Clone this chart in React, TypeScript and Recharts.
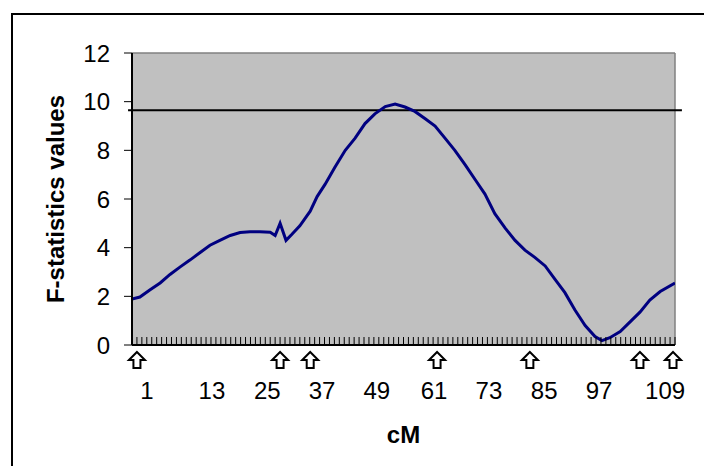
import React from "react";
import {
  LineChart,
  Line,
  XAxis,
  YAxis,
  CartesianGrid,
  ReferenceLine,
  ReferenceDot,
} from "recharts";

// positions along the map (cM) and F values
const cM = [
  0, 1.6, 3.6, 5.7, 7.7, 9.7, 11.8, 13.8, 15.8, 17.8, 19.9, 21.9, 23.9, 25.9,
  28.0, 29.0, 30.0, 31.2, 32.4, 34.0, 36.1, 37.5, 39.1, 41.1, 43.2, 45.2, 47.2,
  49.2, 51.3, 53.3, 55.3, 57.3, 59.4, 61.4, 63.4, 65.4, 67.5, 69.5, 71.5, 73.5,
  75.6, 77.6, 79.6, 81.6, 83.7, 85.7, 87.7, 89.7, 91.8, 93.8, 95.2, 96.8, 98.9,
  100.9, 102.9, 104.9, 107.0, 110,
];
const fValues = [
  1.89, 1.97, 2.26, 2.55, 2.9, 3.2, 3.5, 3.8, 4.1, 4.3, 4.5, 4.62, 4.65, 4.65,
  4.63, 4.5, 5.0, 4.3, 4.55, 4.9, 5.5, 6.1, 6.6, 7.3, 8.0, 8.5, 9.1, 9.5, 9.8,
  9.9, 9.78, 9.6, 9.3, 9.0, 8.5, 8.0, 7.4, 6.8, 6.2, 5.4, 4.8, 4.3, 3.9, 3.6,
  3.25, 2.7, 2.15, 1.45, 0.8, 0.35, 0.18, 0.3, 0.55, 0.95, 1.35, 1.85, 2.2, 2.55,
];

const threshold = 9.65;
const yTicks = [0, 2, 4, 6, 8, 10, 12];
const minorTicks = Array.from({ length: 111 }, (_, i) => i);

// marker arrows under the axis
const markerPos = [1.0, 30.0, 36.1, 61.8, 80.6, 102.9, 109.6];

// hand-placed axis labels
const labelPos = [3.0, 16.2, 27.4, 38.5, 49.6, 61.2, 72.3, 83.5, 94.6, 108.0];
const axisLabels = ["1", "13", "25", "37", "49", "61", "73", "85", "97", "109"];

const data = cM.map((x, i) => ({ cM: x, f: fValues[i] }));

const font = "'Liberation Sans', Arial, sans-serif";

const Arrow = (props: any) => {
  const { cx: x, cy } = props;
  const t = cy + 7;
  return (
    <path
      d={`M${x},${t} L${x + 8},${t + 8} L${x + 3.5},${t + 8} L${x + 3.5},${t + 16} L${x - 3.5},${t + 16} L${x - 3.5},${t + 8} L${x - 8},${t + 8} Z`}
      fill="#fff"
      stroke="#000"
      strokeWidth={2}
      strokeLinejoin="miter"
    />
  );
};

const tickLabel = (text: string) => (props: any) => (
  <text
    x={props.cx}
    y={props.cy + 54}
    textAnchor="middle"
    fontSize={24}
    fontFamily={font}
    fill="#000"
  >
    {text}
  </text>
);

const App: React.FC = () => {
  return (
    <div
      style={{
        position: "relative",
        width: 712,
        height: 474,
        margin: -8,
        overflow: "hidden",
        background: "#fff",
        fontFamily: font,
      }}
    >
      <div
        style={{
          position: "absolute",
          left: 11,
          top: 13,
          width: 800,
          height: 600,
          border: "2px solid #000",
        }}
      />
      <div style={{ position: "absolute", left: 0, top: 0 }}>
        <LineChart
          width={712}
          height={474}
          data={data}
          margin={{ top: 53, right: 37, bottom: 0, left: 0 }}
        >
          <CartesianGrid fill="#C0C0C0" horizontal={false} vertical={false} />
          <ReferenceLine y={12} stroke="#808080" strokeWidth={1.5} />
          <ReferenceLine x={110} stroke="#808080" strokeWidth={1.5} />
          <XAxis
            dataKey="cM"
            type="number"
            domain={[0, 110]}
            allowDataOverflow
            ticks={minorTicks}
            interval={0}
            height={129}
            tickSize={-8}
            tick={() => <g />}
            tickLine={{ stroke: "#000", strokeWidth: 1 }}
            axisLine={{ stroke: "#000", strokeWidth: 2 }}
            label={{
              value: "cM",
              position: "insideBottom",
              offset: 31,
              style: { fontSize: 24, fontWeight: "bold", fill: "#000", fontFamily: font },
            }}
          />
          <YAxis
            domain={[0, 12]}
            ticks={yTicks}
            interval={0}
            width={132}
            tickSize={8}
            tickMargin={14}
            axisLine={{ stroke: "#000", strokeWidth: 2 }}
            tickLine={{ stroke: "#000", strokeWidth: 1 }}
            tick={{ fontSize: 24, fill: "#000", fontFamily: font }}
            label={{
              value: "F-statistics values",
              angle: -90,
              position: "insideLeft",
              offset: 55,
              style: {
                fontSize: 24,
                fontWeight: "bold",
                fill: "#000",
                fontFamily: font,
                textAnchor: "middle",
              },
            }}
          />
          <ReferenceLine
            ifOverflow="visible"
            segment={[
              { x: -0.8, y: threshold },
              { x: 111.4, y: threshold },
            ]}
            stroke="#000"
            strokeWidth={2}
          />
          <Line
            type="linear"
            dataKey="f"
            stroke="#000080"
            strokeWidth={3}
            dot={false}
            isAnimationActive={false}
          />
          {markerPos.map((m) => (
            <ReferenceDot
              key={`m${m}`}
              x={m}
              y={0}
              r={1}
              ifOverflow="visible"
              shape={Arrow}
            />
          ))}
          {labelPos.map((p, i) => (
            <ReferenceDot
              key={`l${p}`}
              x={p}
              y={0}
              r={1}
              ifOverflow="visible"
              shape={tickLabel(axisLabels[i])}
            />
          ))}
        </LineChart>
      </div>
    </div>
  );
};

export default App;
